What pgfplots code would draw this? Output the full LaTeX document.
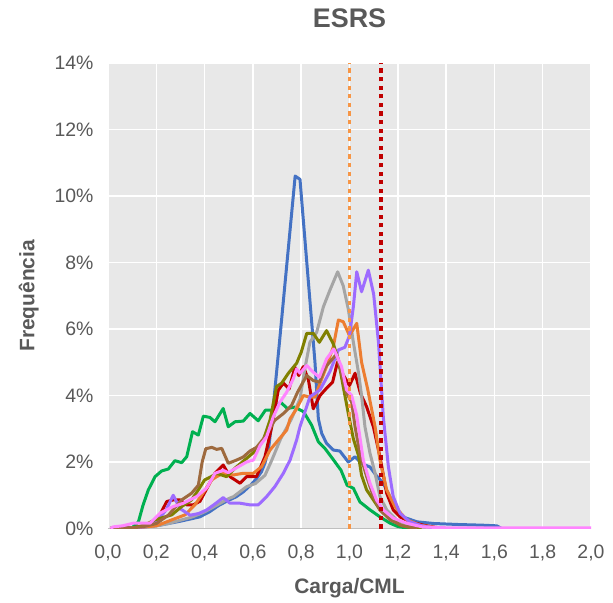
\documentclass[border=0pt]{standalone}
\usepackage{fontspec}
\setmainfont{Liberation Sans}
\usepackage{pgfplots}
\pgfplotsset{compat=1.18}
\definecolor{bgc}{HTML}{E8E8E8}
\definecolor{txt}{HTML}{595959}
\definecolor{axg}{HTML}{BFBFBF}
\definecolor{cblue}{HTML}{4472C4}
\definecolor{cgreen}{HTML}{00B050}
\definecolor{cred}{HTML}{C00000}
\definecolor{cgray}{HTML}{A5A5A5}
\definecolor{corange}{HTML}{ED7D31}
\definecolor{cpurple}{HTML}{9D6BFF}
\definecolor{colive}{HTML}{808000}
\definecolor{cbrown}{HTML}{9E6A3E}
\definecolor{cpink}{HTML}{FF85FF}
\definecolor{dotorange}{HTML}{F79646}
\begin{document}
\begin{tikzpicture}
\begin{axis}[
  scale only axis, width=483bp, height=465.5bp,
  xmin=0, xmax=2, ymin=0, ymax=14,
  axis background/.style={fill=bgc},
  axis line style={draw=none},
  major tick length=0pt,
  xtick={0,0.2,...,2.01}, ytick={0,2,...,14},
  grid=major, grid style={white, line width=1.5bp},
  xticklabel={\pgfmathprintnumber[fixed,fixed zerofill,precision=1,use comma,assume math mode=true]{\tick}},
  yticklabel={\pgfmathprintnumber[fixed,precision=0,assume math mode=true]{\tick}\%},
  xticklabel style={font=\fontsize{19.5}{19.5}\selectfont, text=txt, yshift=-13bp},
  yticklabel style={font=\fontsize{19.5}{19.5}\selectfont, text=txt, xshift=-11bp},
  xlabel={Carga/CML},
  xlabel style={at={(axis description cs:0.5,-0.128)}, anchor=center, font=\bfseries\fontsize{21}{21}\selectfont, text=txt},
  ylabel={Frequência},
  ylabel style={at={(axis description cs:-0.164,0.5)}, anchor=center, font=\bfseries\fontsize{21}{21}\selectfont, text=txt},
  title={ESRS},
  title style={at={(axis description cs:0.5,1.084)}, anchor=center, font=\bfseries\fontsize{27}{27}\selectfont, text=txt},
  every axis plot/.append style={line width=3bp, mark=none, line join=round},
]
\draw[axg, line width=2bp] (axis cs:0,0) -- (axis cs:2,0);
% blue
\addplot[cblue] coordinates {(0.01,0) (0.1,0.02) (0.15,0.05) (0.2,0.08) (0.25,0.15) (0.3,0.22) (0.35,0.3) (0.38,0.35) (0.42,0.5) (0.46,0.7) (0.5,0.85) (0.53,0.95) (0.56,1.1) (0.59,1.3) (0.615,1.5) (0.635,1.7) (0.65,1.97) (0.665,2.4) (0.678,3.2) (0.71,5.6) (0.775,10.6) (0.795,10.5) (0.857,5.0) (0.871,3.3) (0.885,2.86) (0.905,2.56) (0.933,2.36) (0.96,2.33) (0.995,2.0) (1.023,2.16) (1.05,1.95) (1.085,1.85) (1.11,1.6) (1.14,1.36) (1.18,0.76) (1.22,0.35) (1.28,0.2) (1.35,0.15) (1.45,0.12) (1.55,0.1) (1.61,0.08) (1.63,0)};
% green
\addplot[cgreen] coordinates {(0.01,0) (0.05,0) (0.1,0.02) (0.126,0.2) (0.145,0.7) (0.167,1.16) (0.195,1.56) (0.222,1.73) (0.25,1.79) (0.277,2.04) (0.305,1.98) (0.326,2.16) (0.35,2.91) (0.374,2.81) (0.395,3.38) (0.422,3.34) (0.443,3.21) (0.477,3.61) (0.498,3.06) (0.526,3.21) (0.56,3.23) (0.588,3.46) (0.622,3.24) (0.652,3.56) (0.681,3.56) (0.715,3.8) (0.742,3.61) (0.774,3.65) (0.81,3.51) (0.843,3.11) (0.871,2.61) (0.898,2.41) (0.93,2.1) (0.965,1.75) (0.99,1.3) (1.016,1.21) (1.043,0.8) (1.085,0.56) (1.126,0.35) (1.168,0.16) (1.2,0.06) (1.25,0)};
% red
\addplot[cred] coordinates {(0.01,0) (0.1,0.02) (0.15,0.08) (0.19,0.2) (0.215,0.41) (0.243,0.81) (0.27,0.86) (0.298,0.86) (0.326,0.71) (0.353,0.71) (0.381,0.82) (0.409,1.2) (0.443,1.66) (0.477,1.91) (0.505,1.56) (0.547,1.36) (0.574,1.56) (0.615,1.56) (0.65,2.16) (0.678,3.06) (0.705,4.16) (0.726,4.37) (0.75,4.2) (0.774,4.85) (0.79,4.6) (0.809,4.87) (0.83,4.47) (0.85,3.6) (0.878,4.0) (0.905,4.22) (0.93,4.4) (0.95,5.0) (0.97,4.67) (1.0,4.3) (1.023,4.67) (1.045,4.07) (1.071,3.66) (1.099,3.06) (1.126,2.16) (1.154,1.06) (1.181,0.56) (1.209,0.35) (1.25,0.2) (1.306,0.1) (1.35,0.04) (1.4,0)};
% gray
\addplot[cgray] coordinates {(0.01,0) (0.1,0.01) (0.2,0.08) (0.25,0.15) (0.3,0.25) (0.35,0.35) (0.4,0.5) (0.45,0.7) (0.5,0.9) (0.52,0.96) (0.574,1.26) (0.61,1.35) (0.65,1.6) (0.678,2.05) (0.715,2.7) (0.76,3.3) (0.795,3.9) (0.815,4.8) (0.836,5.6) (0.864,5.9) (0.892,6.67) (0.919,7.17) (0.951,7.72) (0.974,7.3) (0.995,6.6) (1.016,5.6) (1.037,4.7) (1.05,4.0) (1.064,3.06) (1.085,2.26) (1.106,1.66) (1.126,0.96) (1.154,0.56) (1.195,0.26) (1.25,0.08) (1.3,0.02) (1.35,0)};
% orange
\addplot[corange] coordinates {(0.01,0) (0.1,0.01) (0.2,0.08) (0.264,0.26) (0.319,0.41) (0.36,0.71) (0.402,1.16) (0.429,1.46) (0.45,1.56) (0.477,1.66) (0.519,1.61) (0.56,1.66) (0.602,1.66) (0.636,1.86) (0.671,2.36) (0.705,2.66) (0.74,2.96) (0.754,3.3) (0.781,3.6) (0.809,4.0) (0.836,3.95) (0.857,3.95) (0.878,4.37) (0.905,4.87) (0.933,5.47) (0.954,6.27) (0.974,6.22) (1.0,5.8) (1.03,6.17) (1.05,5.0) (1.075,4.2) (1.106,3.06) (1.126,2.06) (1.154,1.16) (1.188,0.66) (1.237,0.26) (1.292,0.1) (1.35,0.03) (1.4,0)};
% purple
\addplot[cpurple] coordinates {(0.01,0) (0.1,0.02) (0.15,0.05) (0.2,0.2) (0.24,0.55) (0.27,1.0) (0.298,0.6) (0.34,0.4) (0.375,0.45) (0.409,0.56) (0.445,0.75) (0.477,0.93) (0.505,0.76) (0.547,0.76) (0.588,0.71) (0.622,0.71) (0.657,0.96) (0.691,1.26) (0.726,1.66) (0.754,2.06) (0.781,2.66) (0.795,3.06) (0.836,3.96) (0.878,4.17) (0.919,4.72) (0.954,5.37) (0.981,5.45) (1.0,5.8) (1.016,6.67) (1.03,7.72) (1.05,7.12) (1.078,7.77) (1.1,7.05) (1.12,5.6) (1.14,3.36) (1.161,1.86) (1.181,0.96) (1.209,0.46) (1.25,0.2) (1.3,0.08) (1.35,0.02) (1.4,0)};
% olive
\addplot[colive] coordinates {(0.01,0) (0.1,0.01) (0.15,0.1) (0.195,0.26) (0.264,0.41) (0.305,0.66) (0.346,0.86) (0.374,1.16) (0.4,1.46) (0.425,1.55) (0.45,1.66) (0.491,1.56) (0.533,1.86) (0.574,2.11) (0.615,2.36) (0.643,2.66) (0.671,3.26) (0.698,4.27) (0.719,4.37) (0.747,4.67) (0.781,4.97) (0.8,5.3) (0.823,5.87) (0.85,5.87) (0.875,5.6) (0.905,5.95) (0.933,5.55) (0.954,5.07) (0.974,4.27) (0.995,3.46) (1.016,2.7) (1.037,2.2) (1.05,1.6) (1.071,1.16) (1.099,0.86) (1.126,0.56) (1.168,0.31) (1.209,0.1) (1.25,0.03) (1.3,0)};
% brown
\addplot[cbrown] coordinates {(0.01,0) (0.1,0.02) (0.15,0.06) (0.2,0.15) (0.25,0.4) (0.305,0.86) (0.346,1.06) (0.374,1.3) (0.39,2.0) (0.405,2.4) (0.43,2.44) (0.45,2.38) (0.471,2.41) (0.498,1.96) (0.533,2.06) (0.56,2.15) (0.588,2.33) (0.615,2.44) (0.655,2.8) (0.69,3.25) (0.725,3.45) (0.76,3.7) (0.785,4.1) (0.8,4.3) (0.823,4.6) (0.85,4.45) (0.875,4.4) (0.9,4.85) (0.926,5.07) (0.947,5.25) (0.967,4.67) (0.988,4.07) (1.009,3.8) (1.023,3.06) (1.043,2.26) (1.071,1.56) (1.099,0.96) (1.126,0.56) (1.168,0.26) (1.22,0.08) (1.28,0)};
% pink
\addplot[cpink] coordinates {(0.01,0) (0.022,0.05) (0.06,0.08) (0.105,0.16) (0.174,0.16) (0.215,0.46) (0.27,0.66) (0.312,0.76) (0.367,0.96) (0.409,1.22) (0.443,1.66) (0.477,1.75) (0.498,1.68) (0.533,1.83) (0.574,2.0) (0.602,2.06) (0.63,2.5) (0.657,2.76) (0.684,3.35) (0.712,3.8) (0.74,4.1) (0.767,4.5) (0.781,4.8) (0.795,4.67) (0.823,4.9) (0.85,4.7) (0.875,4.55) (0.905,5.1) (0.935,5.4) (0.967,4.87) (0.988,4.17) (1.009,4.0) (1.03,3.4) (1.057,2.06) (1.085,1.36) (1.112,0.86) (1.14,0.56) (1.181,0.31) (1.237,0.16) (1.3,0.05) (1.4,0.02) (2.0,0.02)};
% reference lines
\addplot[dotorange, line width=3.4bp, dash pattern=on 4.3bp off 4.3bp] coordinates {(1.0,0) (1.0,14)};
\addplot[cred, line width=3.4bp, dash pattern=on 4.3bp off 4.3bp] coordinates {(1.13,0) (1.13,14)};
\end{axis}
\pgfresetboundingbox
\path ([shift={(-108bp,-74.5bp)}]current axis.south west) rectangle ([shift={(22bp,63bp)}]current axis.north east);
\end{tikzpicture}
\end{document}
